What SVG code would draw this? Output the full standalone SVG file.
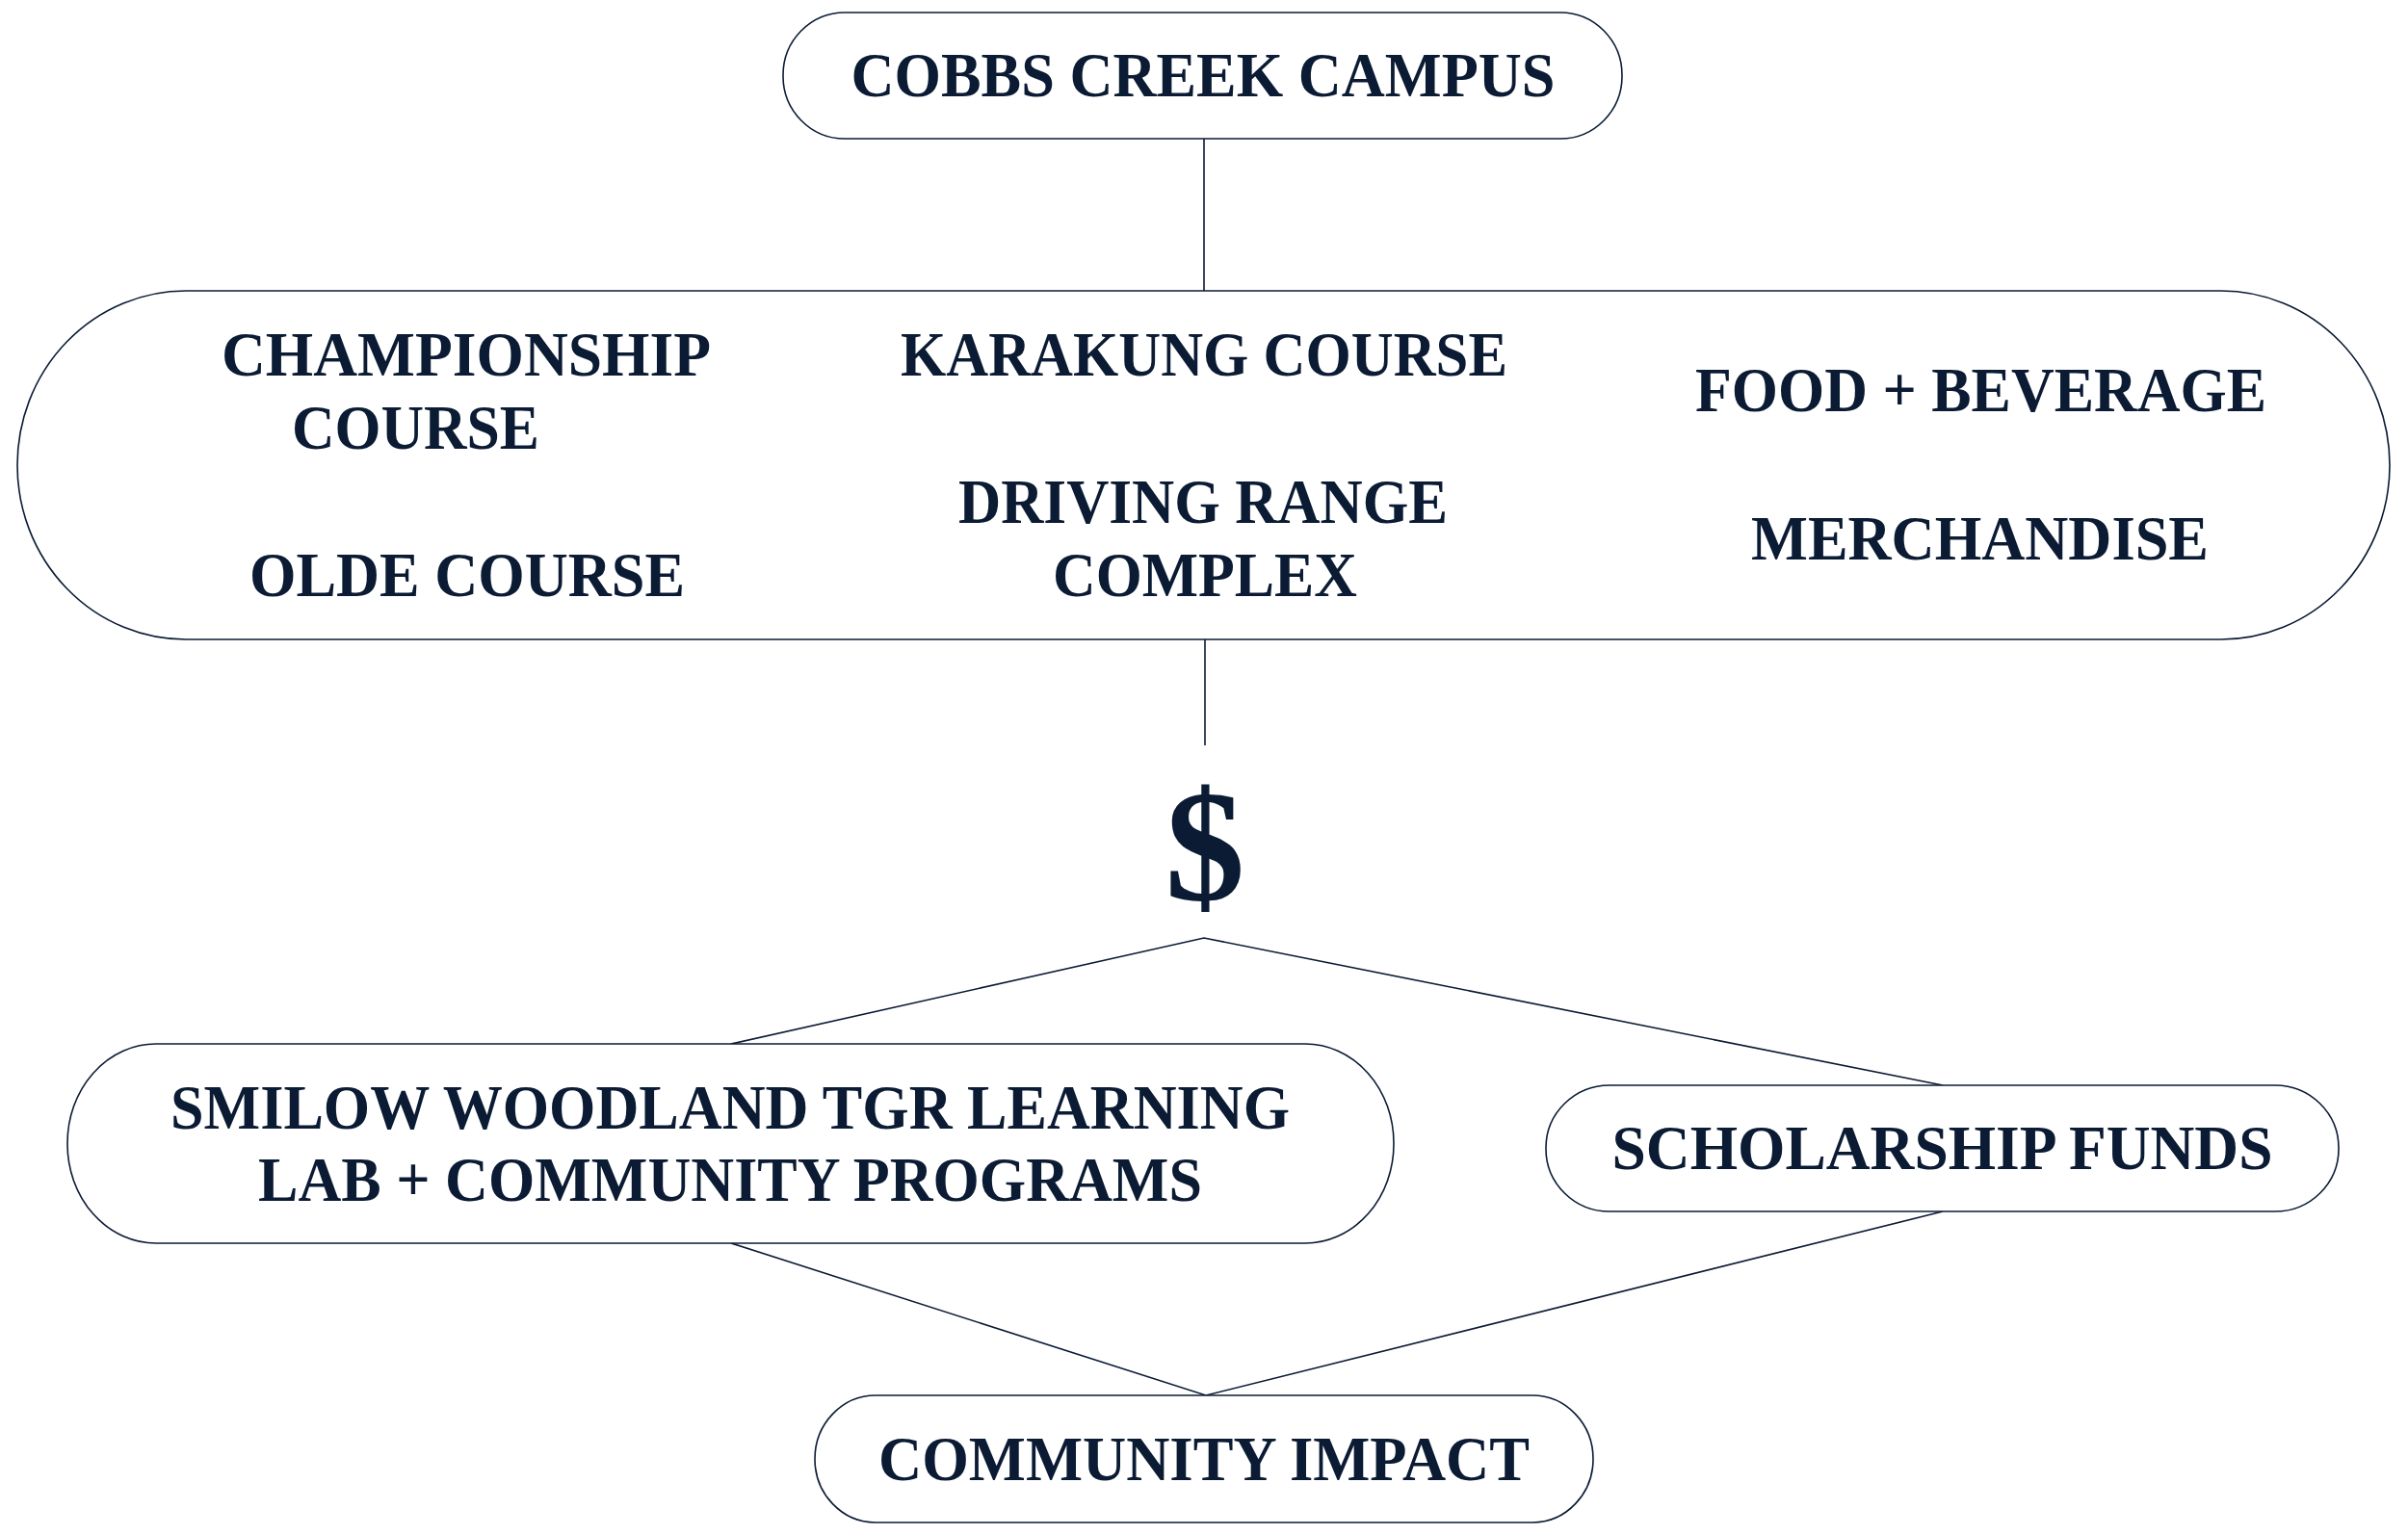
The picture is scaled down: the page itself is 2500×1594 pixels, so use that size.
<svg xmlns="http://www.w3.org/2000/svg" width="2500" height="1594" viewBox="0 0 2500 1594">
<style>
.node{fill:#ffffff;stroke:#0b1b34;stroke-width:1.6}
.lbl{font-family:"Liberation Serif","Times New Roman",serif;font-weight:bold;font-size:66px;fill:#0b1b34;text-anchor:middle}
.conn{stroke:#0b1b34;stroke-width:1.6;fill:none}
</style>
<rect width="2500" height="1594" fill="#ffffff"/>
<g id="connectors">
<line class="conn" x1="1250" y1="144" x2="1250" y2="302"/>
<line class="conn" x1="1251" y1="664" x2="1251" y2="774"/>
<polyline class="conn" points="759,1084 1250,974 2017,1127"/>
<polyline class="conn" points="759,1291 1252,1449 2017,1258"/>
</g>
<g id="cobbs-creek-campus">
<rect class="node" x="813" y="13" width="871" height="131" rx="64" ry="65"/>
<text class="lbl" x="1249" y="100" textLength="731" lengthAdjust="spacingAndGlyphs">COBBS CREEK CAMPUS</text>
</g>
<g id="revenue-sources">
<rect class="node" x="18" y="302" width="2463" height="362" rx="175" ry="181"/>
<text class="lbl" x="484" y="390" textLength="508" lengthAdjust="spacingAndGlyphs">CHAMPIONSHIP</text>
<text class="lbl" x="431.5" y="465.5" textLength="257" lengthAdjust="spacingAndGlyphs">COURSE</text>
<text class="lbl" x="485" y="619" textLength="452" lengthAdjust="spacingAndGlyphs">OLDE COURSE</text>
<text class="lbl" x="1250" y="390" textLength="630" lengthAdjust="spacingAndGlyphs">KARAKUNG COURSE</text>
<text class="lbl" x="1249" y="543" textLength="508" lengthAdjust="spacingAndGlyphs">DRIVING RANGE</text>
<text class="lbl" x="1251" y="619" textLength="316" lengthAdjust="spacingAndGlyphs">COMPLEX</text>
<text class="lbl" x="2056.5" y="427" textLength="593" lengthAdjust="spacingAndGlyphs">FOOD + BEVERAGE</text>
<text class="lbl" x="2055.5" y="581" textLength="475" lengthAdjust="spacingAndGlyphs">MERCHANDISE</text>
</g>
<g id="dollar">
<text x="1251" y="934" font-family="Liberation Serif, Times New Roman, serif" font-weight="bold" font-size="166" fill="#0b1b34" text-anchor="middle">$</text>
</g>
<g id="smilow-woodland">
<rect class="node" x="70" y="1084" width="1377" height="207" rx="92" ry="103"/>
<text class="lbl" x="758" y="1172" textLength="1162" lengthAdjust="spacingAndGlyphs">SMILOW WOODLAND TGR LEARNING</text>
<text class="lbl" x="758" y="1247" textLength="980" lengthAdjust="spacingAndGlyphs">LAB + COMMUNITY PROGRAMS</text>
</g>
<g id="scholarship-funds">
<rect class="node" x="1605" y="1127" width="823" height="131" rx="66" ry="65"/>
<text class="lbl" x="2016.5" y="1214" textLength="686" lengthAdjust="spacingAndGlyphs">SCHOLARSHIP FUNDS</text>
</g>
<g id="community-impact">
<rect class="node" x="846" y="1449" width="808" height="132" rx="63" ry="66"/>
<text class="lbl" x="1250" y="1537" textLength="676" lengthAdjust="spacingAndGlyphs">COMMUNITY IMPACT</text>
</g>
</svg>
